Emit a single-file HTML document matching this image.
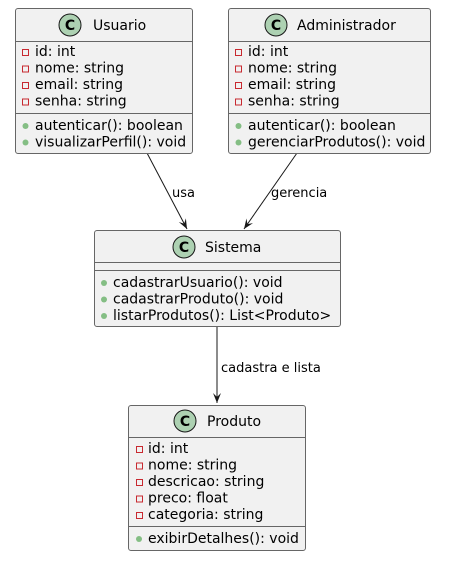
<!DOCTYPE html>
<html><head><meta charset="utf-8"><style>
html,body{margin:0;padding:0;background:#fff}
svg text{font-family:"DejaVu Sans","Liberation Sans",sans-serif;fill:#000}
</style></head><body>
<svg width="452" height="562" viewBox="0 0 452 562" xmlns="http://www.w3.org/2000/svg">
<defs>
<marker id="ah" markerWidth="12" markerHeight="12" refX="10" refY="5" orient="auto" markerUnits="userSpaceOnUse">
<path d="M0,1 L10,5 L0,9 L4,5 Z" fill="#181818"/>
</marker>
</defs>
<g stroke="#181818" stroke-width="1">
<line x1="147" y1="153" x2="187" y2="229" marker-end="url(#ah)"/>
<line x1="297" y1="153" x2="244" y2="229" marker-end="url(#ah)"/>
<line x1="217" y1="327" x2="217" y2="403" marker-end="url(#ah)"/>
</g>
<g font-size="13">
<text x="172" y="197">usa</text>
<text x="271" y="197">gerencia</text>
<text x="221" y="372">cadastra e lista</text>
</g>

<g stroke="#666">
<!-- Usuario -->
<rect x="15.5" y="8.5" width="177" height="145" rx="2.5" fill="#F1F1F1"/>
<line x1="15.5" y1="41.5" x2="192.5" y2="41.5"/>
<line x1="15.5" y1="113.5" x2="192.5" y2="113.5"/>
<!-- Administrador -->
<rect x="228.5" y="8.5" width="202" height="145" rx="2.5" fill="#F1F1F1"/>
<line x1="228.5" y1="41.5" x2="430.5" y2="41.5"/>
<line x1="228.5" y1="113.5" x2="430.5" y2="113.5"/>
<!-- Sistema -->
<rect x="94.5" y="230.5" width="246" height="96" rx="2.5" fill="#F1F1F1"/>
<line x1="94.5" y1="262.5" x2="340.5" y2="262.5"/>
<line x1="94.5" y1="270.5" x2="340.5" y2="270.5"/>
<!-- Produto -->
<rect x="128.5" y="405.5" width="177" height="145" rx="2.5" fill="#F1F1F1"/>
<line x1="128.5" y1="437.5" x2="305.5" y2="437.5"/>
<line x1="128.5" y1="526.5" x2="305.5" y2="526.5"/>
</g>

<g fill="#ADD1B2" stroke="#181818">
<circle cx="70" cy="25" r="11"/><circle cx="276" cy="25" r="11"/>
<circle cx="184" cy="247" r="11"/><circle cx="185" cy="421" r="11"/>
</g>
<g font-size="14" font-weight="bold" text-anchor="middle">
<text x="70" y="30">C</text><text x="276" y="30">C</text>
<text x="184" y="252">C</text><text x="185" y="426">C</text>
</g>
<g font-size="14">
<text x="93" y="30">Usuario</text>
<text x="297" y="30">Administrador</text>
<text x="205" y="252">Sistema</text>
<text x="207" y="426">Produto</text>

<text x="35" y="56">id: int</text>
<text x="35" y="72.5">nome: string</text>
<text x="35" y="89">email: string</text>
<text x="35" y="105.5">senha: string</text>
<text x="35" y="130">autenticar(): boolean</text>
<text x="35" y="146.5">visualizarPerfil(): void</text>

<text x="248" y="56">id: int</text>
<text x="248" y="72.5">nome: string</text>
<text x="248" y="89">email: string</text>
<text x="248" y="105.5">senha: string</text>
<text x="248" y="130">autenticar(): boolean</text>
<text x="248" y="146.5">gerenciarProdutos(): void</text>

<text x="113" y="287">cadastrarUsuario(): void</text>
<text x="113" y="303.5">cadastrarProduto(): void</text>
<text x="113" y="320">listarProdutos(): List&lt;Produto&gt;</text>

<text x="148" y="453">id: int</text>
<text x="148" y="469.5">nome: string</text>
<text x="148" y="486">descricao: string</text>
<text x="148" y="502.5">preco: float</text>
<text x="148" y="519">categoria: string</text>
<text x="148" y="543">exibirDetalhes(): void</text>
</g>
<g fill="none" stroke="#C82930">
<rect x="22.5" y="49.5" width="6" height="6"/><rect x="22.5" y="66" width="6" height="6"/>
<rect x="22.5" y="82.5" width="6" height="6"/><rect x="22.5" y="99" width="6" height="6"/>
<rect x="235.5" y="49.5" width="6" height="6"/><rect x="235.5" y="66" width="6" height="6"/>
<rect x="235.5" y="82.5" width="6" height="6"/><rect x="235.5" y="99" width="6" height="6"/>
<rect x="136.5" y="446.5" width="6" height="6"/><rect x="136.5" y="463" width="6" height="6"/>
<rect x="136.5" y="479.5" width="6" height="6"/><rect x="136.5" y="496" width="6" height="6"/>
<rect x="136.5" y="512.5" width="6" height="6"/>
</g>
<g fill="#84BE84">
<circle cx="25.5" cy="126" r="3"/><circle cx="25.5" cy="142.5" r="3"/>
<circle cx="238.5" cy="126" r="3"/><circle cx="238.5" cy="142.5" r="3"/>
<circle cx="104" cy="283" r="3"/><circle cx="104" cy="299.5" r="3"/><circle cx="104" cy="316" r="3"/>
<circle cx="139" cy="539" r="3"/>
</g>
</svg>
</body></html>
